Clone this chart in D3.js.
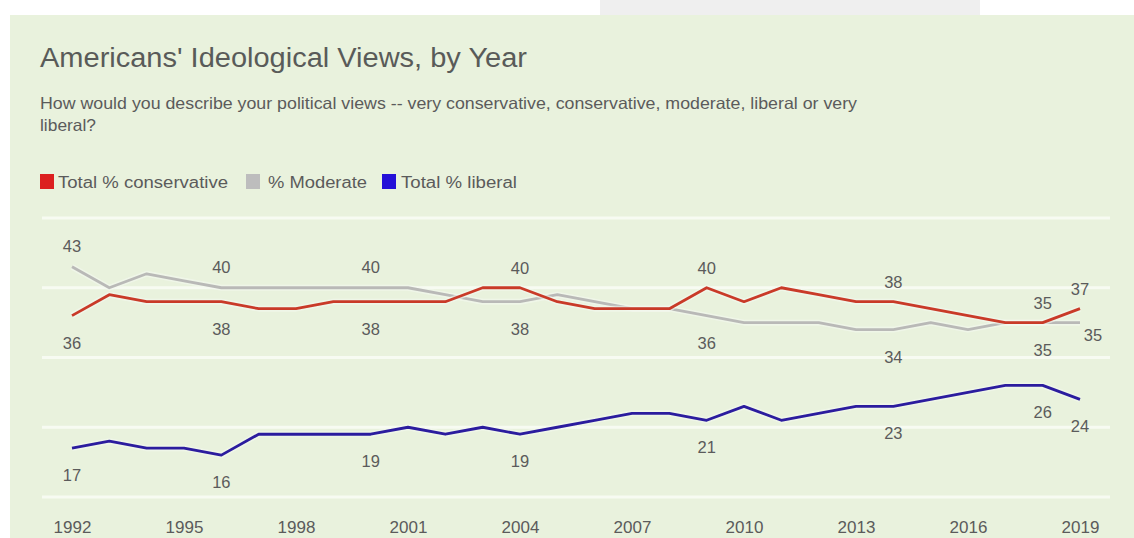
<!DOCTYPE html>
<html>
<head>
<meta charset="utf-8">
<script src="https://cdn.jsdelivr.net/npm/d3@7/dist/d3.min.js"></script>
<style>
  html, body { margin: 0; padding: 0; background: #ffffff; }
  svg { display: block; }
  text { font-family: Arial, "Liberation Sans", sans-serif; }
</style>
</head>
<body>
<svg id="chart" width="1134" height="538"></svg>
<script>
// Survey years
const years = d3.range(1992, 2020);

// Self-described ideology, % of U.S. adults
const conservative = [36, 39, 38, 38, 38, 37, 37, 38, 38, 38, 38, 40, 40, 38, 37, 37, 37, 40, 38, 40, 39, 38, 38, 37, 36, 35, 35, 37];
const moderate     = [43, 40, 42, 41, 40, 40, 40, 40, 40, 40, 39, 38, 38, 39, 38, 37, 37, 36, 35, 35, 35, 34, 34, 35, 34, 35, 35, 35];
const liberal      = [17, 18, 17, 17, 16, 19, 19, 19, 19, 20, 19, 20, 19, 20, 21, 22, 22, 21, 23, 21, 22, 23, 23, 24, 25, 26, 26, 24];

// Years whose values are written next to the lines
const labelYears = [1992, 1996, 2000, 2004, 2009, 2014, 2018, 2019];

// Axis tick labels
const tickYears = [1992, 1995, 1998, 2001, 2004, 2007, 2010, 2013, 2016, 2019];
const gridValues = [10, 20, 30, 40, 50];

const seriesNames = ["Total % conservative", "% Moderate", "Total % liberal"];
const lineColors = ["#c93a28", "#b9b9b7", "#2b1c9e"];
const swatchColors = ["#dc2020", "#bdbdbd", "#2410d8"];

const svg = d3.select("#chart");
const W = 1134, H = 538;
const textColor = "#5b5b5b";

// Page strip and panel
svg.append("rect").attr("width", W).attr("height", H).attr("fill", "#ffffff");
svg.append("rect").attr("x", 600).attr("y", 0).attr("width", 380).attr("height", 15).attr("fill", "#efefef");
svg.append("rect").attr("x", 10).attr("y", 15).attr("width", W - 10).attr("height", H - 15).attr("fill", "#e9f2dd");

// Title and question text
svg.append("text").attr("x", 40).attr("y", 67)
  .attr("font-size", 27).attr("fill", "#595b59")
  .attr("textLength", 487).attr("lengthAdjust", "spacingAndGlyphs")
  .text("Americans' Ideological Views, by Year");

svg.append("text").attr("x", 40).attr("y", 109)
  .attr("font-size", 16.5).attr("fill", textColor)
  .attr("textLength", 817).attr("lengthAdjust", "spacingAndGlyphs")
  .text("How would you describe your political views -- very conservative, conservative, moderate, liberal or very");
svg.append("text").attr("x", 40).attr("y", 131)
  .attr("font-size", 16.5).attr("fill", textColor)
  .attr("textLength", 56).attr("lengthAdjust", "spacingAndGlyphs")
  .text("liberal?");

// Legend
const legendItems = [
  { swatch: 40, text: 58, width: 170 },
  { swatch: 246, text: 268, width: 99 },
  { swatch: 382, text: 401, width: 116 }
];
const legend = svg.append("g").attr("transform", "translate(0,174)");
seriesNames.forEach((name, i) => {
  const it = legendItems[i];
  legend.append("rect").attr("x", it.swatch).attr("width", 14).attr("height", 15).attr("fill", swatchColors[i]);
  legend.append("text").attr("x", it.text).attr("y", 13.5)
    .attr("font-size", 16).attr("fill", textColor)
    .attr("textLength", it.width).attr("lengthAdjust", "spacingAndGlyphs")
    .text(name);
});

// Scales
const x = d3.scaleLinear().domain([1992, 2019]).range([72, 1080]);
const y = d3.scaleLinear().domain([10, 50]).range([497, 218]);

// Horizontal grid
svg.append("g").selectAll("line").data(gridValues).join("line")
  .attr("x1", 42).attr("x2", 1110)
  .attr("y1", d => y(d)).attr("y2", d => y(d))
  .attr("stroke", "#f7fbf2").attr("stroke-width", 3);

// Year axis
const xAxis = d3.axisBottom(x).tickValues(tickYears).tickFormat(d3.format("d")).tickSize(0).tickPadding(0);
const axisG = svg.append("g").attr("transform", "translate(0,521)").call(xAxis);
axisG.select(".domain").remove();
axisG.selectAll("text").attr("font-size", 17).attr("fill", textColor)
  .attr("font-family", "Arial, 'Liberation Sans', sans-serif");

// Lines
const seriesData = [conservative, moderate, liberal];
const line = d3.line().x((d, i) => x(years[i])).y(d => y(d));

// Draw moderate first so the other lines sit on top
[1, 0, 2].forEach(s => {
  svg.append("path").datum(seriesData[s])
    .attr("fill", "none").attr("stroke", "#f4f8f0").attr("stroke-opacity", 0.6)
    .attr("stroke-width", 6).attr("stroke-linejoin", "round").attr("d", line);
  svg.append("path").datum(seriesData[s])
    .attr("fill", "none").attr("stroke", lineColors[s])
    .attr("stroke-width", 2.8).attr("stroke-linejoin", "round").attr("d", line);
});

// Value labels: above or below depending on the series and year
function place(series, yr) {
  const i = years.indexOf(yr);
  const v = seriesData[series][i];
  let dx = 0, dy;
  if (series === 0) {
    dy = (yr <= 2000) ? 27 : -20;
  } else if (series === 1) {
    dy = (yr <= 2000) ? -21 : 27;
    if (yr === 2019) { dx = 13; dy = 12; }
  } else {
    dy = 27;
  }
  return { x: x(yr) + dx, y: y(v) + dy, v };
}

const labels = [];
labelYears.forEach(yr => [0, 1, 2].forEach(s => labels.push(place(s, yr))));
svg.append("g").selectAll("text").data(labels).join("text")
  .attr("x", d => d.x).attr("y", d => d.y)
  .attr("text-anchor", "middle").attr("dominant-baseline", "central")
  .attr("font-size", 16.5).attr("fill", textColor)
  .text(d => d.v);
</script>
</body>
</html>
